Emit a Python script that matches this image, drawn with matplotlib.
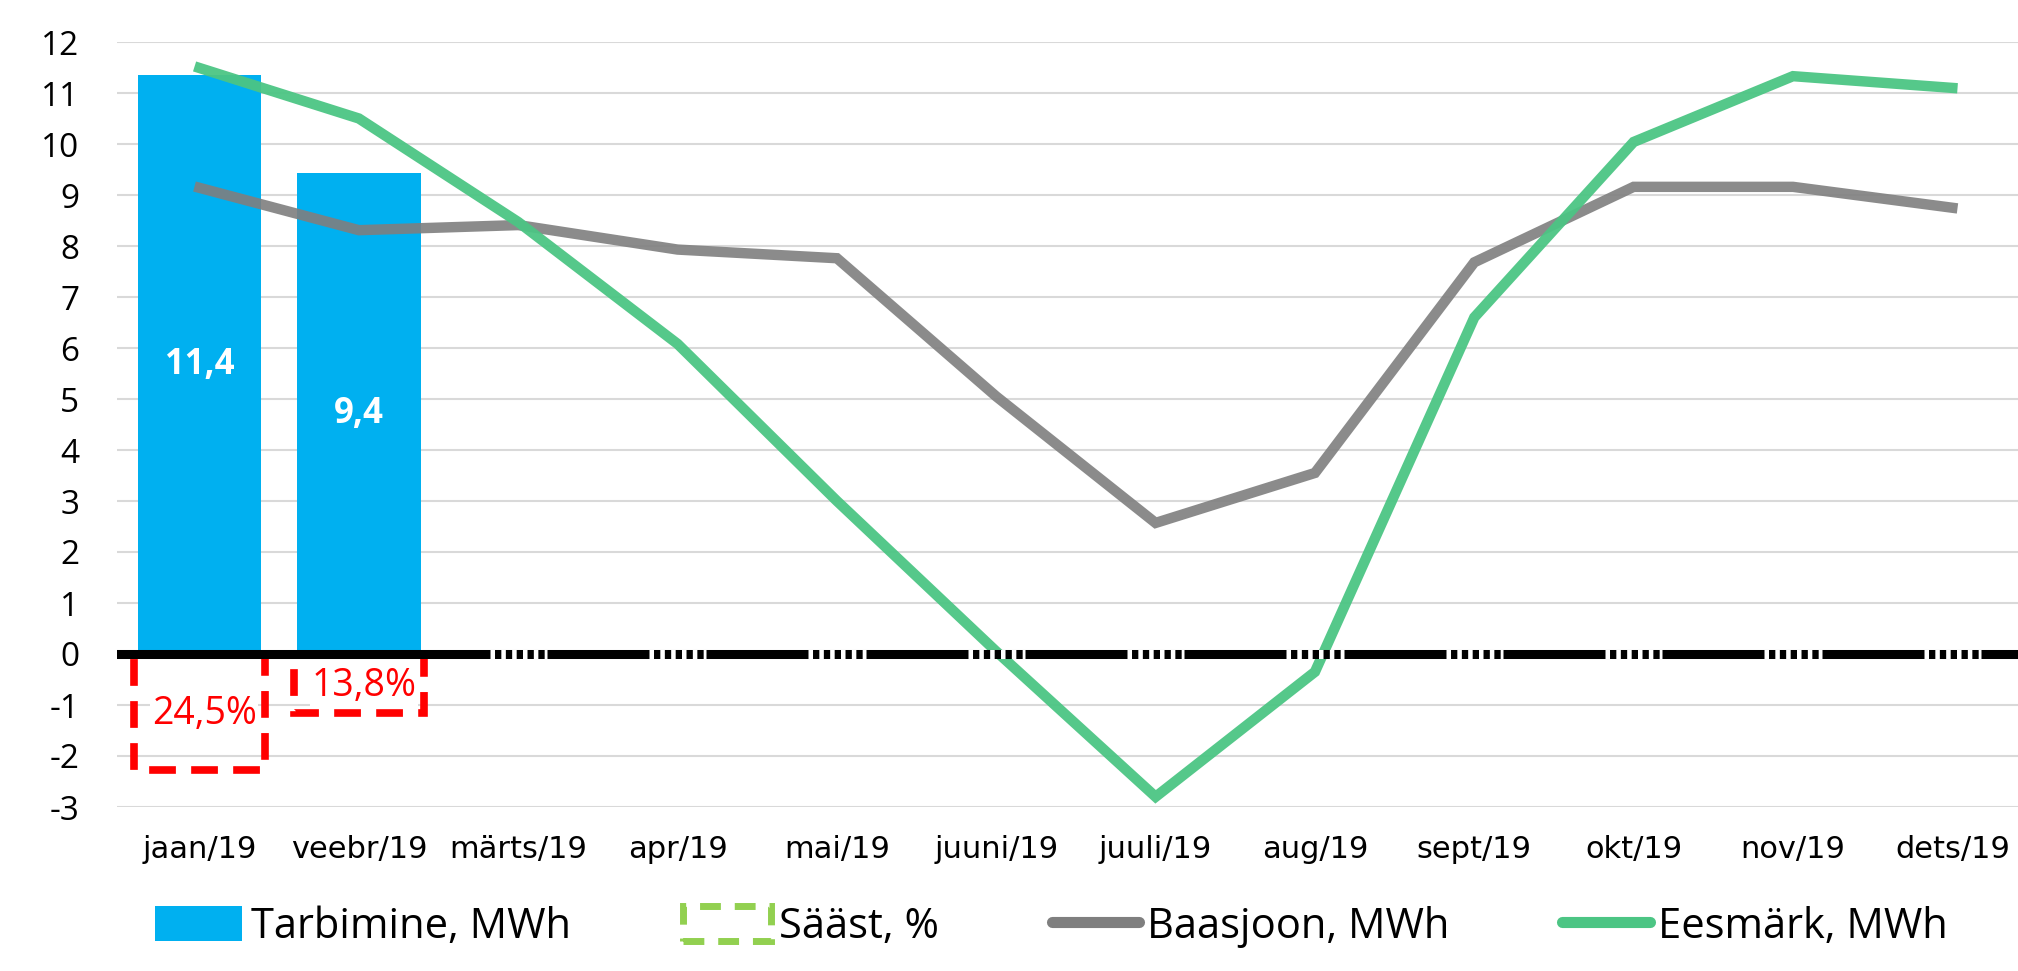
import numpy as np
import matplotlib
matplotlib.use("Agg")
import matplotlib.pyplot as plt
from matplotlib.patches import Patch
from matplotlib.lines import Line2D

plt.rcParams['font.family'] = ['Open Sans', 'DejaVu Sans']
plt.rcParams['axes.unicode_minus'] = False

months = ["jaan/19", "veebr/19", "märts/19", "apr/19", "mai/19", "juuni/19",
          "juuli/19", "aug/19", "sept/19", "okt/19", "nov/19", "dets/19"]
tarbimine = [11.35, 9.43]                      # MWh, only first two months
tarbimine_labels = ["11,4", "9,4"]
saast = [-2.27, -1.16]                         # drawn height of savings bars
saast_labels = ["24,5%", "13,8%"]
baasjoon = [9.14, 8.31, 8.41, 7.93, 7.76, 5.05, 2.57, 3.55, 7.68, 9.16, 9.16, 8.75]
eesmark = [11.49, 10.5, 8.47, 6.08, 3.0, 0.05, -2.8, -0.35, 6.6, 10.04, 11.33, 11.1]
yticks = list(range(-3, 13))

blue = "#00B0F0"
gray = "#7F7F7F"
green = "#4CC584"

fig = plt.figure(figsize=(20.18, 9.71), dpi=100)
ax = fig.add_axes([117 / 2018, 1 - 807 / 971, (2032 - 117) / 2018, (807 - 42) / 971])

x = np.arange(len(months))

# grid
for v in yticks:
    if v != 0:
        ax.axhline(v, color="#D9D9D9", lw=1.5, zorder=0)

# consumption bars
bars = ax.bar(x[:len(tarbimine)], tarbimine, width=0.775, color=blue, zorder=2)
for xi, v, lab in zip(x, tarbimine, tarbimine_labels):
    ax.text(xi, v / 2, lab, color="white", fontsize=25, fontweight="bold",
            ha="center", va="center", zorder=6)

# savings bars (dashed outline)
ax.bar(x[:len(saast)], saast, width=0.82, facecolor="none", edgecolor="#FF0000",
       linewidth=5.5, linestyle=(0, (3.5, 2)), zorder=2)
for xi, v, lab in zip(x, saast, saast_labels):
    ax.text(xi + 0.03, v / 2 - 0.05, lab, color="#FF0000", fontsize=27,
            ha="center", va="center", zorder=6,
            bbox=dict(facecolor="white", edgecolor="none", pad=1))

# lines
ax.plot(x, baasjoon, color=gray, lw=7.5, alpha=0.9, solid_joinstyle="miter", zorder=3)
ax.plot(x, eesmark, color=green, lw=7.5, alpha=0.95, solid_joinstyle="miter", zorder=3)

# zero axis line with empty savings markers
ax.axhline(0, color="black", lw=6.5, zorder=4)
for xi in x[len(saast):]:
    ax.hlines(0, xi - 0.18, xi + 0.18, color="white", lw=6.5,
              linestyle=(0, (0.5, 0.7)), capstyle="butt", zorder=5)

ax.set_xlim(-0.518, 11.5)
ax.set_ylim(-3, 12)
ax.set_yticks(yticks)
ax.set_xticks(x)
ax.set_xticklabels(months, fontsize=22, family=['DejaVu Sans'])
ax.tick_params(axis="y", labelsize=24, pad=27, length=0)
ax.tick_params(axis="x", pad=20, length=0)
for s in ax.spines.values():
    s.set_visible(False)

handles = [
    Patch(facecolor=blue, edgecolor="none"),
    Patch(facecolor="none", edgecolor="#92D050", linewidth=5, linestyle=(0, (3, 2))),
    Line2D([0], [0], color=gray, lw=8, solid_capstyle="round"),
    Line2D([0], [0], color=green, lw=8, solid_capstyle="round"),
]
labels = ["Tarbimine, MWh", "Sääst, %", "Baasjoon, MWh", "Eesmärk, MWh"]
fig.legend(handles, labels, loc="lower center", bbox_to_anchor=(0.521, 0.0), ncol=4,
           frameon=False, fontsize=30, handlelength=2.1, handleheight=0.9,
           handletextpad=0.2, columnspacing=2.7, borderpad=0.05)

fig.savefig("out.png", dpi=100)
